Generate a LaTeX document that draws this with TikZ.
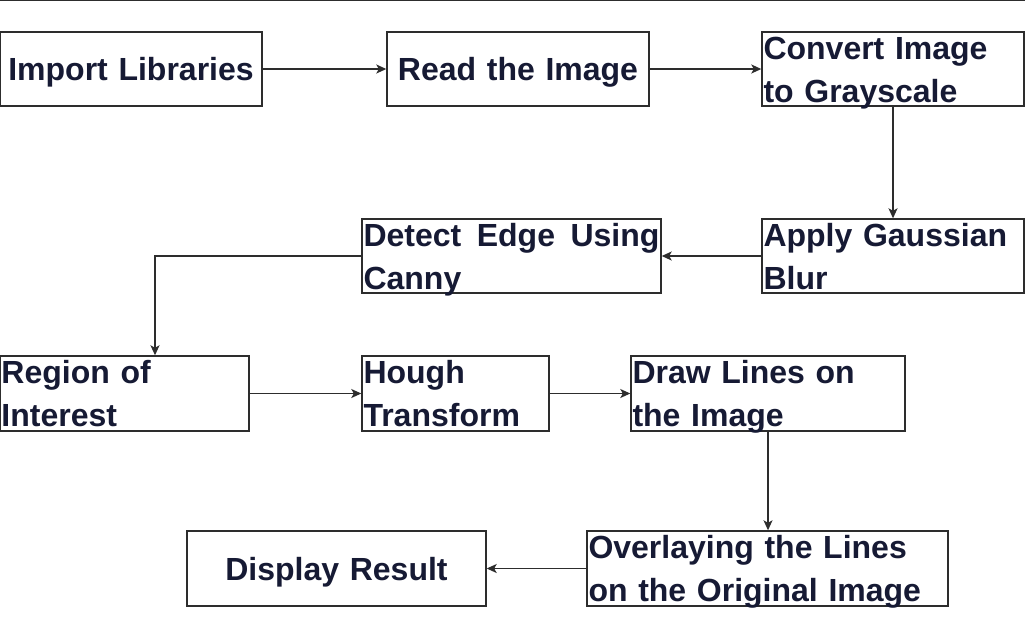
\documentclass[tikz,border=0pt]{standalone}
\usepackage{fontspec}
\setmainfont{Liberation Sans}
\usetikzlibrary{arrows.meta,calc}
\definecolor{txtc}{RGB}{22,26,52}
\definecolor{linec}{RGB}{45,45,45}
\tikzset{
  box/.style={draw=linec, line width=1.4pt, rectangle, inner xsep=1.5pt, inner ysep=0pt,
    font=\fontsize{32}{43}\selectfont\bfseries, text=txtc},
  one/.style={text height=23pt, text depth=0pt},
  two/.style={text height=23pt, text depth=43pt},
  arr/.style={draw=linec, line width=1.4pt, -{Stealth[length=10pt,width=9pt,inset=2.5pt]}}
}
\begin{document}
\begin{tikzpicture}[x=1pt,y=-1pt]
\useasboundingbox (0,0) rectangle (1025,635);
\fill[white] (0,0) rectangle (1025,635);
\draw[linec, line width=1.5pt] (0,0.5) -- (1025,0.5);
% row 1
\node[box, one, minimum width=262pt, minimum height=74pt, text width=259pt, align=center] (imp) at (131,69) {Import Libraries};
\node[box, one, minimum width=262pt, minimum height=74pt, text width=259pt, align=center] (read) at (518,69) {Read the Image};
\node[box, two, minimum width=262pt, minimum height=74pt, text width=259pt, align=left] (conv) at (893,69) {Convert Image\\to Grayscale};
% row 2
\node[box, two, minimum width=262pt, minimum height=74pt, text width=259pt, align=left] (blur) at (893,256) {Apply Gaussian\\Blur};
\node[box, two, minimum width=299pt, minimum height=74pt, text width=296pt, align=left] (canny) at (511.5,256) {Detect\hfill Edge\hfill Using\\Canny};
% row 3
\node[box, two, minimum width=249pt, minimum height=75pt, text width=246pt, align=left] (roi) at (124.5,393.5) {Region of\\Interest};
\node[box, two, minimum width=187pt, minimum height=75pt, text width=184pt, align=left] (hough) at (455.5,393.5) {Hough\\Transform};
\node[box, two, minimum width=274pt, minimum height=75pt, text width=271pt, align=left] (drawl) at (768,393.5) {Draw Lines on\\the Image};
% row 4
\node[box, two, minimum width=361pt, minimum height=75pt, text width=358pt, align=left] (over) at (767.5,568.5) {Overlaying the Lines\\on the Original Image};
\node[box, one, minimum width=299pt, minimum height=75pt, text width=296pt, align=center] (disp) at (336.5,568.5) {Display Result};
% connectors
\coordinate (bend) at (155,256);
\draw[arr] (imp.east) -- (read.west);
\draw[arr] (read.east) -- (conv.west);
\draw[arr] (conv.south) -- (blur.north);
\draw[arr] (blur.west) -- (canny.east);
\draw[arr] (canny.west) -- (bend) -- (bend |- roi.north);
\draw[arr] (roi.east) -- (hough.west);
\draw[arr] (hough.east) -- (drawl.west);
\draw[arr] (drawl.south) -- (drawl.south |- over.north);
\draw[arr] (over.west) -- (disp.east);
\end{tikzpicture}
\end{document}
